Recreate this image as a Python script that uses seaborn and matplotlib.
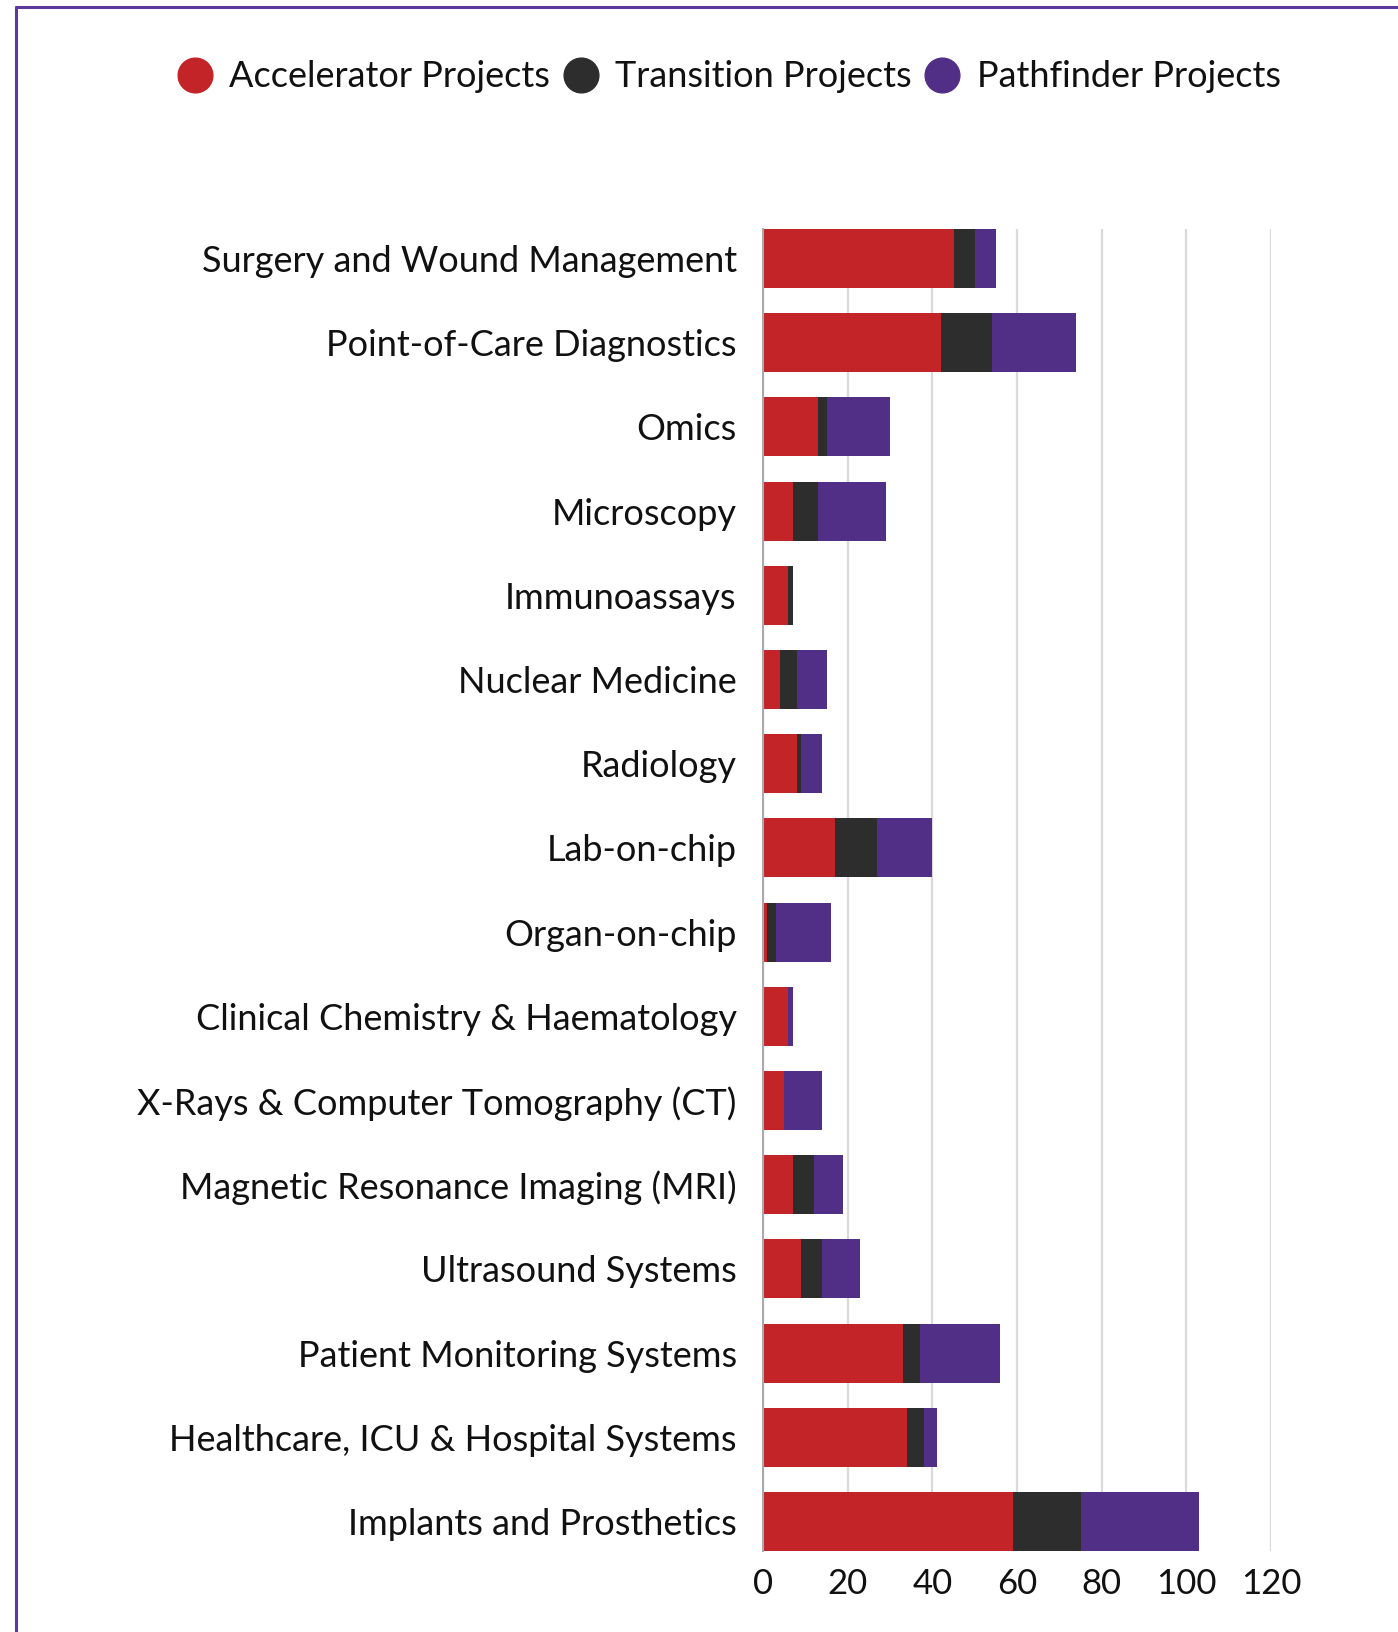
import numpy as np
import pandas as pd
import matplotlib.pyplot as plt
import seaborn as sns
from matplotlib.lines import Line2D

categories = ['Surgery and Wound Management', 'Point-of-Care Diagnostics', 'Omics',
              'Microscopy', 'Immunoassays', 'Nuclear Medicine', 'Radiology',
              'Lab-on-chip', 'Organ-on-chip', 'Clinical Chemistry & Haematology',
              'X-Rays & Computer Tomography (CT)', 'Magnetic Resonance Imaging (MRI)',
              'Ultrasound Systems', 'Patient Monitoring Systems',
              'Healthcare, ICU & Hospital Systems', 'Implants and Prosthetics']
accelerator = [45, 42, 13, 7, 6, 4, 8, 17, 1, 6, 5, 7, 9, 33, 34, 59]
transition = [5, 12, 2, 6, 1, 4, 1, 10, 2, 0, 0, 5, 5, 4, 4, 16]
pathfinder = [5, 20, 15, 16, 0, 7, 5, 13, 13, 1, 9, 7, 9, 19, 3, 28]

series_names = ['Accelerator Projects', 'Transition Projects', 'Pathfinder Projects']
colors = ['#C32428', '#2D2D2D', '#522F86']

df = pd.DataFrame({'category': categories, 'acc': accelerator,
                   'tra': transition, 'pat': pathfinder})
df['c1'] = df['acc']
df['c2'] = df['acc'] + df['tra']
df['c3'] = df['c2'] + df['pat']

sns.set_style('white')
plt.rcParams['font.family'] = ['Lato', 'DejaVu Sans']

fig = plt.figure(figsize=(13.98, 16.32), dpi=100)
ax = fig.add_axes([0.5458, 0.0496, 0.3634, 0.8101])

# stacked bars: draw cumulative totals back to front
for col, color in zip(['c3', 'c2', 'c1'], colors[::-1]):
    sns.barplot(data=df, x=col, y='category', orient='h', color=color,
                width=0.7, saturation=1, linewidth=0, ax=ax, zorder=3)

ax.set_xlim(0, 120)
ax.set_ylim(15.35, -0.35)
ax.set_xticks(range(0, 121, 20))
ax.xaxis.grid(True, color='#DADADA', linewidth=1.6, zorder=0)
ax.set_axisbelow(True)
for s in ['top', 'right', 'bottom']:
    ax.spines[s].set_visible(False)
ax.spines['left'].set_color('#AAAAAA')
ax.spines['left'].set_linewidth(1.5)
ax.spines['left'].set_zorder(4)
ax.set_xlabel('')
ax.set_ylabel('')
ax.tick_params(axis='y', length=0, pad=19, labelsize=26, labelcolor='#111111')
ax.tick_params(axis='x', length=0, pad=12, labelsize=25, labelcolor='#111111')

handles = [Line2D([0], [0], marker='o', linestyle='', markersize=25,
                  markerfacecolor=c, markeredgecolor=c) for c in colors]
fig.legend(handles, series_names, loc='center', bbox_to_anchor=(0.522, 0.953),
           ncol=3, frameon=False, fontsize=26, handlelength=0.9,
           handletextpad=0.5, columnspacing=0.4, labelcolor='#111111')

# purple frame (top and left edges)
fig.add_artist(Line2D([16 / 1398, 1], [1 - 7 / 1632, 1 - 7 / 1632],
                      color='#5B3A9B', linewidth=2.2, transform=fig.transFigure))
fig.add_artist(Line2D([16 / 1398, 16 / 1398], [0, 1 - 7 / 1632],
                      color='#5B3A9B', linewidth=2.2, transform=fig.transFigure))

fig.savefig('out.png', dpi=100, facecolor='white')
